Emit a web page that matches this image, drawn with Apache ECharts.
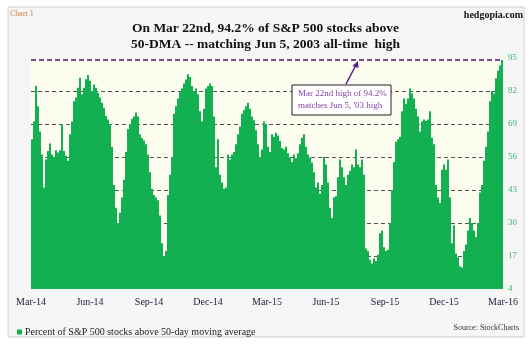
<!DOCTYPE html>
<html><head><meta charset="utf-8">
<script src="https://cdn.jsdelivr.net/npm/echarts@6/dist/echarts.min.js"></script>
<style>html,body{margin:0;padding:0;background:#fff}#c{width:531px;height:346px}</style>
</head><body><div id="c"></div>
<script>
// Quarter tick labels on the x axis
const tickLabels = ['Mar-14','Jun-14','Sep-14','Dec-14','Mar-15','Jun-15','Sep-15','Dec-15','Mar-16'];
// Y axis range / step
const yMin = 4, yMax = 95, yStep = 13;
// Percent of S&P 500 stocks above 50-DMA (Mar 2014 - Mar 22, 2016)
const pctAbove50 = [
 63,70,84,76,66,57,44,55,58.4,61.3,57,56,58.7,57.8,58.7,69,58.4,56.5,54.5,65,70,78,79.4,83.3,87.2,80.7,83.3,86.6,88.3,86,82,84.6,83.3,81.3,79.4,77.4,75.4,72.2,70.8,
 69,60,45,36,30,34,40,47,58,67,69,71,72,73.5,72,65,63.5,62.5,61,57,50,43.5,41,40,39,33,22,17,19,41,49,56,73,76,79,81.5,83,85,
 86.5,88.6,87.5,84,82,83,80.7,74,70,75,83,84,85,84,72,52,63,49,46,43.5,44,57,55,57,58,61,65,68,73,74.5,76,77.4,75,72,70.5,66.5,61,56,59,
 70,69,60,58,65,64,65.6,64.5,62.3,59.5,59,60,57.5,55.8,54,57,55.5,57.5,61,63.6,65,60,57,55.8,53.8,50,44,46,41.5,45,56,53,46,36,32,40,40.5,48,
 55,52,48,45,49,50.6,53,52,59,53,52,55,49,20,19,15.5,14,16,15,17.5,26,27,20.4,19,19.5,30,43,54,62,63,64,74,79,77,79,83,81,79,75,
 72,66,70,70.8,70.2,70.8,74,63.6,61,45,40,38,51,53,51,55,40,22,29,18,16.5,13,12.5,19,21.5,27,32,30,27,24.5,30,42,45,54.5,60,66,78,82,81,87,90,92,94.2
];
const categories = pctAbove50.map((_, i) => String(i));
const recordHigh = 94.2;
const seriesName = 'Percent of S&P 500 stocks above 50-day moving average';

const serif = '"Liberation Serif","Times New Roman",serif';
const nLines = (yMax - yMin) / yStep + 1;
const splitColors = Array.from({length: nLines}, (_, i) => (i === 0 || i === nLines - 1) ? 'rgba(0,0,0,0)' : '#555');

const chart = echarts.init(document.getElementById('c'), null, {renderer: 'canvas'});
chart.setOption({
  backgroundColor: '#ffffff',
  animation: false,
  title: {
    text: 'On Mar 22nd, 94.2% of S&P 500 stocks above\n50-DMA -- matching Jun 5, 2003 all-time  high',
    left: 'center', top: 16,
    textStyle: {fontFamily: serif, fontWeight: 'bold', fontSize: 13.5, lineHeight: 16, color: '#111'}
  },
  legend: {
    data: [seriesName], left: 12, top: 322, icon: 'rect', itemWidth: 5, itemHeight: 5, itemGap: 4,
    textStyle: {fontFamily: serif, fontSize: 10, color: '#222', padding: [0, 0, 0, -2]}
  },
  grid: {left: 31, right: 28, top: 58, bottom: 57, show: true, backgroundColor: '#fcfcef', borderWidth: 0},
  xAxis: [{
    type: 'category', data: categories, boundaryGap: true,
    axisLine: {show: false}, axisTick: {show: false}, axisLabel: {show: false}, splitLine: {show: false}
  }, {
    type: 'value', min: 0, max: tickLabels.length - 1, interval: 1, position: 'bottom',
    axisLine: {show: false}, axisTick: {show: false}, splitLine: {show: false},
    axisLabel: {formatter: v => tickLabels[v] || '', fontFamily: serif, fontSize: 10, color: '#1c1c3c', margin: 8}
  }],
  yAxis: {
    type: 'value', position: 'right', min: yMin, max: yMax, interval: yStep,
    axisLine: {show: false}, axisTick: {show: false},
    axisLabel: {fontFamily: serif, fontSize: 9, color: '#3cb371', margin: 5},
    splitLine: {show: true, lineStyle: {color: splitColors, type: [4, 3], width: 1}}
  },
  series: [{
    name: seriesName, type: 'bar', data: pctAbove50, barCategoryGap: 0,
    itemStyle: {color: '#12b050'},
    markLine: {
      silent: true, symbol: ['arrow', 'none'], symbolSize: [8, 0],
      lineStyle: {color: '#4a0f78', type: [5, 3], width: 1.5},
      label: {show: false},
      data: [{yAxis: recordHigh}]
    }
  }],
  graphic: [
    {type: 'rect', z: -10, shape: {x: 8, y: 7, width: 516, height: 330}, style: {fill: '#f6f6f6', stroke: '#cfcfcf', lineWidth: 1}},
    {type: 'text', left: 10, top: 10, style: {text: 'Chart 1', fontFamily: serif, fontSize: 8, fill: '#d2803a'}},
    {type: 'text', right: 8, top: 10, style: {text: 'hedgopia.com', fontFamily: serif, fontSize: 10, fontWeight: 'bold', fill: '#111'}},
    {type: 'text', right: 12, top: 324, style: {text: 'Source: StockCharts', fontFamily: serif, fontSize: 8, fill: '#333'}},
    {type: 'rect', z: 50, shape: {x: 292, y: 85, width: 99, height: 30}, style: {fill: '#ffffff', stroke: '#222', lineWidth: 1}},
    {type: 'text', z: 51, x: 298, y: 88, style: {text: 'Mar 22nd high of 94.2%\nmatches Jun 5, \'03 high', fontFamily: serif, fontSize: 9, lineHeight: 12, fill: '#8a44a8'}},
    {type: 'line', z: 51, shape: {x1: 346, y1: 84, x2: 356, y2: 65}, style: {stroke: '#5a1a8a', lineWidth: 1.5}},
    {type: 'polygon', z: 51, shape: {points: [[358, 61], [352.5, 66], [358.5, 68]]}, style: {fill: '#5a1a8a'}}
  ]
});
</script></body></html>
